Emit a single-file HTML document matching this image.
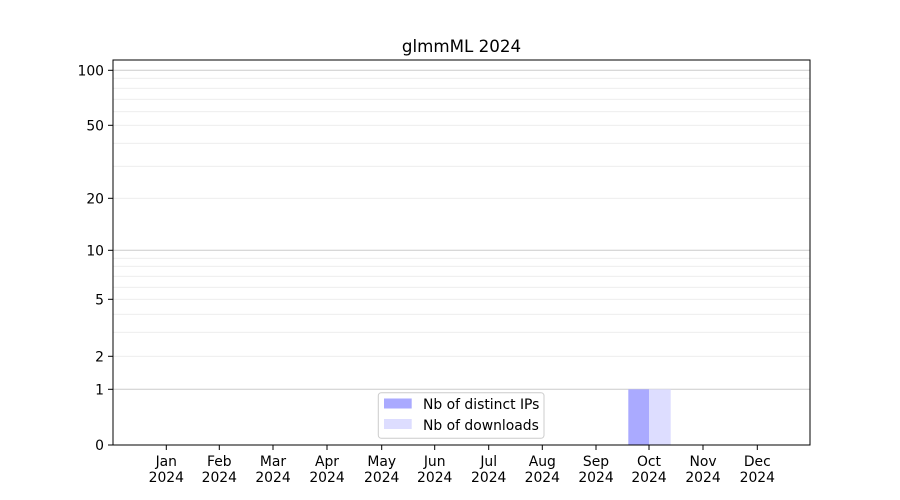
<!DOCTYPE html>
<html><head><meta charset="utf-8"><style>html,body{margin:0;padding:0;background:#fff}svg{display:block}text{font-family:"DejaVu Sans","Liberation Sans",sans-serif;fill:#000}</style></head>
<body>
<svg width="900" height="500" viewBox="0 0 900 500" xmlns="http://www.w3.org/2000/svg">
<rect width="900" height="500" fill="#fff"/>
<g stroke="#ebebeb" stroke-width="0.8">
<line x1="113" x2="810" y1="78.3" y2="78.3"/><line x1="113" x2="810" y1="88.3" y2="88.3"/><line x1="113" x2="810" y1="99.3" y2="99.3"/><line x1="113" x2="810" y1="111.7" y2="111.7"/><line x1="113" x2="810" y1="125.3" y2="125.3"/><line x1="113" x2="810" y1="143.3" y2="143.3"/><line x1="113" x2="810" y1="166.3" y2="166.3"/><line x1="113" x2="810" y1="198.3" y2="198.3"/>
<line x1="113" x2="810" y1="258.3" y2="258.3"/><line x1="113" x2="810" y1="266.3" y2="266.3"/><line x1="113" x2="810" y1="276.3" y2="276.3"/><line x1="113" x2="810" y1="287.3" y2="287.3"/><line x1="113" x2="810" y1="299.3" y2="299.3"/><line x1="113" x2="810" y1="314.3" y2="314.3"/><line x1="113" x2="810" y1="332.3" y2="332.3"/><line x1="113" x2="810" y1="356.3" y2="356.3"/>
</g>
<g stroke="#cccccc" stroke-width="1">
<line x1="113" x2="810" y1="70.3" y2="70.3"/><line x1="113" x2="810" y1="250.3" y2="250.3"/><line x1="113" x2="810" y1="389.3" y2="389.3"/>
</g>
<rect x="628.3" y="389.3" width="20.7" height="55.7" fill="#aaaaff"/>
<rect x="649" y="389.3" width="21.7" height="55.7" fill="#ddddff"/>
<rect x="113" y="60" width="697" height="385" fill="none" stroke="#000" stroke-width="1"/>
<g stroke="#000" stroke-width="1">
<line x1="108" x2="113" y1="70.3" y2="70.3"/><line x1="108" x2="113" y1="125.3" y2="125.3"/><line x1="108" x2="113" y1="198.3" y2="198.3"/><line x1="108" x2="113" y1="250.3" y2="250.3"/><line x1="108" x2="113" y1="299.3" y2="299.3"/><line x1="108" x2="113" y1="356.3" y2="356.3"/><line x1="108" x2="113" y1="389.3" y2="389.3"/><line x1="108" x2="113" y1="445" y2="445"/>
</g>
<g font-size="13.9" text-anchor="end">
<text x="104" y="75.3">100</text><text x="104" y="130.3">50</text><text x="104" y="203.3">20</text><text x="104" y="255.3">10</text><text x="104" y="304.3">5</text><text x="104" y="361.3">2</text><text x="104" y="394.3">1</text><text x="104" y="450">0</text>
</g>
<g stroke="#000" stroke-width="1">
<line x1="166.3" x2="166.3" y1="445" y2="450"/><line x1="219.3" x2="219.3" y1="445" y2="450"/><line x1="273" x2="273" y1="445" y2="450"/><line x1="327" x2="327" y1="445" y2="450"/><line x1="381.7" x2="381.7" y1="445" y2="450"/><line x1="434.7" x2="434.7" y1="445" y2="450"/><line x1="488.7" x2="488.7" y1="445" y2="450"/><line x1="542.3" x2="542.3" y1="445" y2="450"/><line x1="596" x2="596" y1="445" y2="450"/><line x1="649" x2="649" y1="445" y2="450"/><line x1="703" x2="703" y1="445" y2="450"/><line x1="757.3" x2="757.3" y1="445" y2="450"/>
</g>
<g font-size="13.9" text-anchor="middle">
<text x="166.3" y="466">Jan</text><text x="166.3" y="482">2024</text>
<text x="219.3" y="466">Feb</text><text x="219.3" y="482">2024</text>
<text x="273" y="466">Mar</text><text x="273" y="482">2024</text>
<text x="327" y="466">Apr</text><text x="327" y="482">2024</text>
<text x="381.7" y="466">May</text><text x="381.7" y="482">2024</text>
<text x="434.7" y="466">Jun</text><text x="434.7" y="482">2024</text>
<text x="488.7" y="466">Jul</text><text x="488.7" y="482">2024</text>
<text x="542.3" y="466">Aug</text><text x="542.3" y="482">2024</text>
<text x="596" y="466">Sep</text><text x="596" y="482">2024</text>
<text x="649" y="466">Oct</text><text x="649" y="482">2024</text>
<text x="703" y="466">Nov</text><text x="703" y="482">2024</text>
<text x="757.3" y="466">Dec</text><text x="757.3" y="482">2024</text>
</g>
<text x="461.5" y="52" font-size="16.7" text-anchor="middle">glmmML 2024</text>
<rect x="378.3" y="392.7" width="165.7" height="45.6" rx="3" fill="#fff" fill-opacity="0.8" stroke="#cccccc" stroke-width="1"/>
<rect x="384" y="398.5" width="27.7" height="10" fill="#aaaaff"/>
<rect x="384" y="419" width="27.7" height="10" fill="#ddddff"/>
<g font-size="13.9"><text x="423" y="409">Nb of distinct IPs</text><text x="423" y="430">Nb of downloads</text></g>
</svg>
</body></html>
